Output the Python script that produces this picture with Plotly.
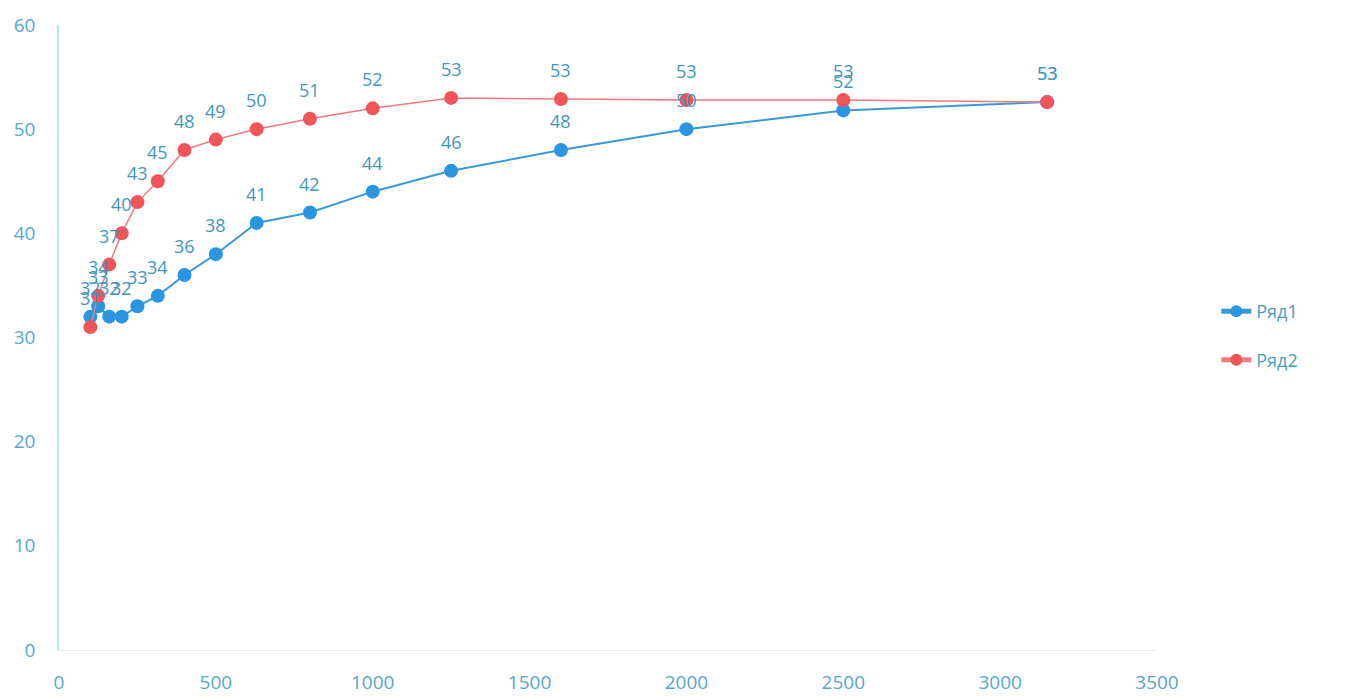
import plotly.graph_objects as go

freq = [100, 125, 160, 200, 250, 315, 400, 500, 630, 800, 1000, 1250, 1600, 2000, 2500, 3150]
row1 = [32, 33, 32, 32, 33, 34, 36, 38, 41, 42, 44, 46, 48, 50, 52, 53]
row2 = [31, 34, 37, 40, 43, 45, 48, 49, 50, 51, 52, 53, 53, 53, 53, 53]
plot_row1 = [32, 33, 32, 32, 33, 34, 36, 38, 41, 42, 44, 46, 48, 50, 51.8, 52.6]
plot_row2 = [31, 34, 37, 40, 43, 45, 48, 49, 50, 51, 52, 53, 52.9, 52.8, 52.8, 52.6]
names = ["Ряд1", "Ряд2"]

font_family = "Open Sans, Lato, sans-serif"
label_color = "#3f97c2"

fig = go.Figure()
fig.add_trace(go.Scatter(
    x=freq, y=plot_row1, name=names[0], mode="lines+markers",
    line=dict(color="#3a9ad9", width=2),
    marker=dict(color="#2a95e0", size=14),
    legendgroup="a",
))
fig.add_trace(go.Scatter(
    x=freq, y=plot_row2, name=names[1], mode="lines+markers",
    line=dict(color="#f07a80", width=1.5),
    marker=dict(color="#f2545b", size=14),
    legendgroup="b",
))

annotations = []
for xs, ys, labels in [(freq, plot_row1, row1), (freq, plot_row2, row2)]:
    for xv, yv, lv in zip(xs, ys, labels):
        annotations.append(dict(
            x=xv, y=yv, xref="x", yref="y", text=str(lv), showarrow=False,
            yshift=29, xanchor="center", yanchor="middle",
            font=dict(color=label_color, size=18, family=font_family),
        ))

fig.update_layout(
    width=1348, height=697,
    margin=dict(l=59, r=191, t=25, b=47),
    paper_bgcolor="white", plot_bgcolor="white",
    font=dict(family=font_family, color="#4aa3c8", size=18),
    annotations=annotations,
    legend=dict(x=1.054, y=0.503, xanchor="left", yanchor="middle",
                font=dict(size=18, color="#4a9cc0"), tracegroupgap=22,
                itemsizing="constant"),
    xaxis=dict(range=[0, 3500], dtick=500, showgrid=False, zeroline=False,
               showline=True, linecolor="#e4f0f2", linewidth=1,
               tickfont=dict(size=19, color="#55a8cc"), ticks="",
               ticklabelstandoff=15, automargin=False),
    yaxis=dict(range=[0, 60], dtick=10, showgrid=False, zeroline=False,
               showline=True, linecolor="#b8e4ec", linewidth=1.5,
               tickfont=dict(size=19, color="#55a8cc"), ticks="",
               ticklabelstandoff=18, automargin=False),
)

fig.write_html("out.html")
